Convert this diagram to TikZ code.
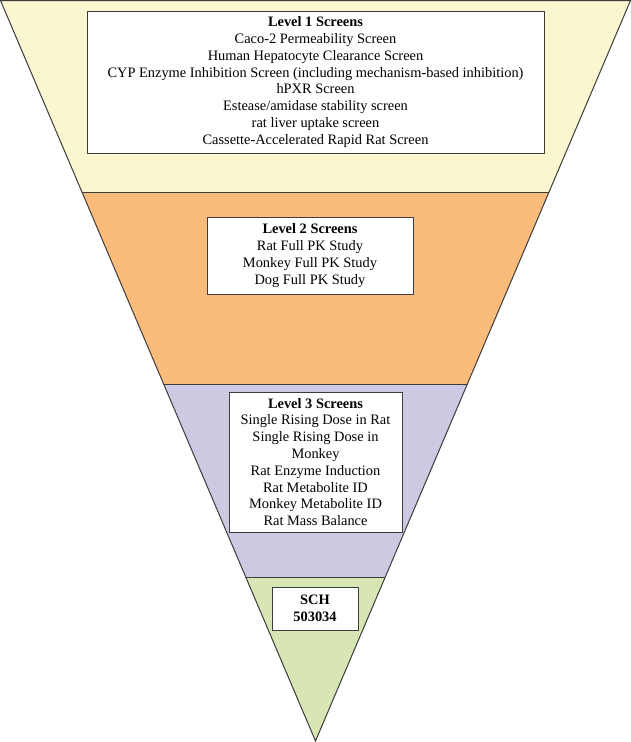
\documentclass[tikz,border=0pt]{standalone}
\usepackage{fontspec}
\setmainfont{Liberation Serif}
\usepackage{tikz}
\usetikzlibrary{positioning,calc}
\definecolor{lvyellow}{HTML}{F9F6D0}
\definecolor{lvorange}{HTML}{FBBB7B}
\definecolor{lvpurple}{HTML}{CCCAE3}
\definecolor{lvgreen}{HTML}{D7E6B4}
\definecolor{lvline}{HTML}{3C3C3C}
\tikzset{lvbox/.style={rectangle, draw=lvline, line width=1pt, fill=white, inner sep=2pt, align=center, font=\fontsize{14.4}{16.8}\selectfont}}
\tikzset{lvedge/.style={draw=lvline, line width=1pt}}

\begin{document}
\begin{tikzpicture}[x=1pt, y=-1pt]
  \useasboundingbox (0,0) rectangle (631,742);
  \coordinate (tl) at (0.5,0.5);
  \coordinate (tr) at (630.5,0.5);
  \coordinate (apex) at (315.5,741);

  % bands of the funnel
  \begin{scope}
    \clip (tl) -- (tr) -- (apex) -- cycle;
    \fill[lvyellow] (0,0) rectangle (631,192);
    \fill[lvorange] (0,192) rectangle (631,384);
    \fill[lvpurple] (0,384) rectangle (631,577);
    \fill[lvgreen] (0,577) rectangle (631,742);
    \draw[lvedge] (0,192) -- (631,192);
    \draw[lvedge] (0,384) -- (631,384);
    \draw[lvedge] (0,577) -- (631,577);
  \end{scope}
  \draw[lvedge, line join=miter] (tl) -- (tr) -- (apex) -- cycle;

  \node[lvbox, minimum width=457pt, minimum height=142pt] (level1) at (315.5,82) {\textbf{Level 1 Screens}\\Caco-2 Permeability Screen\\Human Hepatocyte Clearance Screen\\CYP Enzyme Inhibition Screen (including mechanism-based inhibition)\\hPXR Screen\\Estease/amidase stability screen\\rat liver uptake screen\\Cassette-Accelerated Rapid Rat Screen};
  \node[lvbox, minimum width=206pt, minimum height=77pt] (level2) at (310,255.5) {\textbf{Level 2 Screens}\\Rat Full PK Study\\Monkey Full PK Study\\Dog Full PK Study};
  \node[lvbox, minimum width=173pt, minimum height=140pt] (level3) at (315.5,462) {\textbf{Level 3 Screens}\\Single Rising Dose in Rat\\Single Rising Dose in\\Monkey\\Rat Enzyme Induction\\Rat Metabolite ID\\Monkey Metabolite ID\\Rat Mass Balance};
  \node[lvbox, minimum width=86pt, minimum height=43pt] (sch) at (315,608.5) {\textbf{SCH}\\\textbf{503034}};
\end{tikzpicture}
\end{document}
